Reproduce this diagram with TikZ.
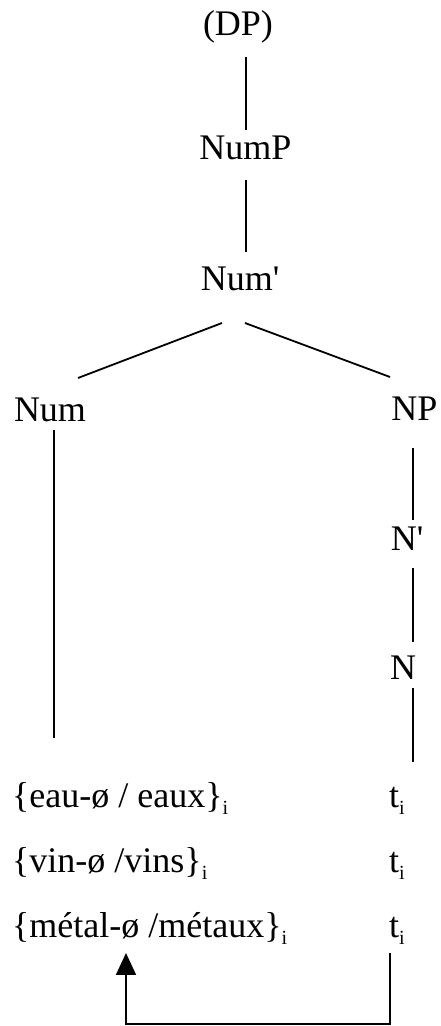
\documentclass[tikz,border=0pt]{standalone}
\usepackage{fontspec}
\setmainfont{Liberation Serif}
\usetikzlibrary{calc,arrows.meta}
\newcommand\sbi{\raisebox{-7pt}{\fontsize{20}{20}\selectfont i}}
\begin{document}
\begin{tikzpicture}[x=1pt,y=1pt,
  lbl/.style={inner sep=0pt,anchor=base,font=\fontsize{36}{40}\selectfont},
  lblw/.style={lbl,anchor=base west},
  edge/.style={line width=1.8pt},
  mv/.style={line width=1.8pt,-{Triangle[width=20pt,length=22pt]}}]
\useasboundingbox (0,0) rectangle (440,1026);
\node[lbl] (dp) at (238,990) {(DP)};
\node[lbl] (nump) at (245.5,866) {NumP};
\node[lbl] (numbar) at (240,735) {Num\textquotesingle};
\node[lbl] (num) at (50,604) {Num};
\node[lbl] (np) at (414.5,605) {NP};
\node[lbl] (nbar) at (407,475) {N\textquotesingle};
\node[lbl] (n) at (403,346) {N};
\node[lblw] (eau) at (12,218) {\{eau-ø / eaux\}\sbi};
\node[lblw] (vin) at (12,153) {\{vin-ø /vins\}\sbi};
\node[lblw] (metal) at (12,88) {\{métal-ø /métaux\}\sbi};
\node[lblw] (t1) at (389,218) {t\sbi};
\node[lblw] (t2) at (389,153) {t\sbi};
\node[lblw] (t3) at (389,88) {t\sbi};
\draw[edge] ($(dp.base)+(8,-21)$) -- ($(nump.base)+(0.5,30)$);
\draw[edge] ($(nump.base)+(0.5,-20)$) -- ($(numbar.base)+(6,39)$);
\draw[edge] ($(numbar.base)+(-18,-32)$) -- ($(num.base)+(28,44)$);
\draw[edge] ($(numbar.base)+(5,-32)$) -- ($(np.base)+(-24.5,44)$);
\draw[edge] ($(num.base)+(4,-8)$) -- ($(eau.base west)+(42,70)$);
\draw[edge] ($(np.base)+(-1.5,-27)$) -- ($(nbar.base)+(6,31)$);
\draw[edge] ($(nbar.base)+(6,-17)$) -- ($(n.base)+(10,38)$);
\draw[edge] ($(n.base)+(10,-8)$) -- ($(t1.base west)+(24,46)$);
\coordinate (trace) at ($(t3.base west)+(1,-15)$);
\coordinate (target) at ($(metal.base west)+(114,-15)$);
\draw[mv] (trace) -- ++(0,-71.2) -| (target);
\end{tikzpicture}
\end{document}
